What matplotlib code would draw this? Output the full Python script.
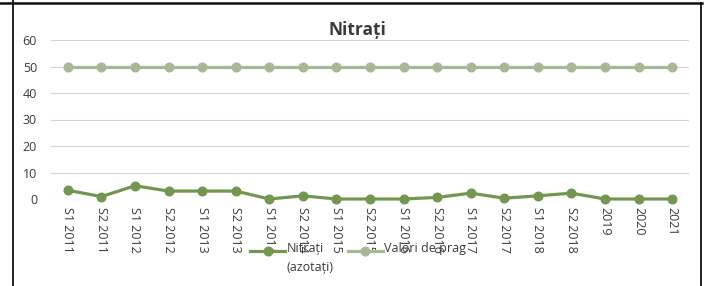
import matplotlib
matplotlib.use("Agg")
import matplotlib.pyplot as plt
from matplotlib.lines import Line2D

categories = ["S1 2011", "S2 2011", "S1 2012", "S2 2012", "S1 2013", "S2 2013",
              "S1 2014", "S2 2014", "S1 2015", "S2 2015", "S1 2016", "S2 2016",
              "S1 2017", "S2 2017", "S1 2018", "S2 2018", "2019", "2020", "2021"]
nitrati = [3.3, 0.9, 5.0, 3.0, 3.0, 3.0, 0.0, 1.2, 0.0, 0.0, 0.0, 0.6,
           2.2, 0.3, 1.2, 2.2, 0.0, 0.0, 0.0]
prag = [50] * 19
yticks = [0, 10, 20, 30, 40, 50, 60]

plt.rcParams['font.family'] = ['Open Sans', 'DejaVu Sans']

fig = plt.figure(figsize=(7.07, 2.86), dpi=100)
W, H = 707, 286
ax = fig.add_axes([51 / W, 1 - 199 / H, (689 - 51) / W, (199 - 40) / H])

x = list(range(len(categories)))
c_nit = "#739650"
c_prag = "#a8b894"
tcol = "#3a3a3a"

l2, = ax.plot(x, prag, color=c_prag, lw=2.3, marker="o", ms=6.2, clip_on=False,
              label="Valori de prag\n", zorder=3)
l1, = ax.plot(x, nitrati, color=c_nit, lw=2.3, marker="o", ms=6.2, clip_on=False,
              label="Nitrați\n(azotați)", zorder=4)

ax.set_xlim(-0.5, len(categories) - 0.5)
ax.set_ylim(0, 60)
ax.set_yticks(yticks)
ax.set_xticks(x)
ax.set_xticklabels(categories, rotation=270, fontsize=9, color=tcol)
ax.tick_params(axis="y", labelsize=9, colors=tcol, length=0, pad=10)
ax.tick_params(axis="x", length=0, pad=6)
ax.grid(axis="y", color="#d4d4d4", lw=0.8)
ax.set_axisbelow(True)
for s in ax.spines.values():
    s.set_visible(False)

fig.text(357 / W, 1 - 30 / H, "Nitrați", ha="center", va="center",
         fontsize=12.5, fontweight="bold", color=tcol)

leg = fig.legend(handles=[l1, l2], loc="center", bbox_to_anchor=(358 / W, 1 - 258 / H),
                 ncol=2, frameon=False, fontsize=9, handlelength=2.8,
                 handletextpad=0.1, columnspacing=1.15, labelcolor=tcol,
                 borderpad=0.0)
for t in leg.get_texts():
    t.set_linespacing(1.6)

# align each legend handle with the first line of its label
fig.canvas.draw()
try:
    renderer = fig.canvas.get_renderer()
    for col in leg._legend_handle_box.get_children():
        for item in col.get_children():
            da, ta = item.get_children()
            txt = ta._text
            bb = txt.get_window_extent(renderer)
            nlines = txt.get_text().count("\n") + 1
            line_h = bb.height / nlines
            target_y = bb.y1 - line_h / 2 - 1
            for art in da.get_children():
                ys = art.get_ydata()
                disp = art.get_transform().transform([(0, ys[0])])[0][1]
                delta_pts = (target_y - disp) * 72.0 / fig.dpi
                art.set_ydata([y + delta_pts for y in ys])
except Exception:
    pass

# page frame lines
fig.add_artist(Line2D([0, 702 / W], [1 - 3 / H, 1 - 3 / H], color="#111111", lw=1.8))
fig.add_artist(Line2D([13 / W, 13 / W], [0, 1], color="#111111", lw=1.3))
fig.add_artist(Line2D([701 / W, 701 / W], [0, 1 - 3 / H], color="#111111", lw=1.3))

fig.savefig("out.png", dpi=100)
